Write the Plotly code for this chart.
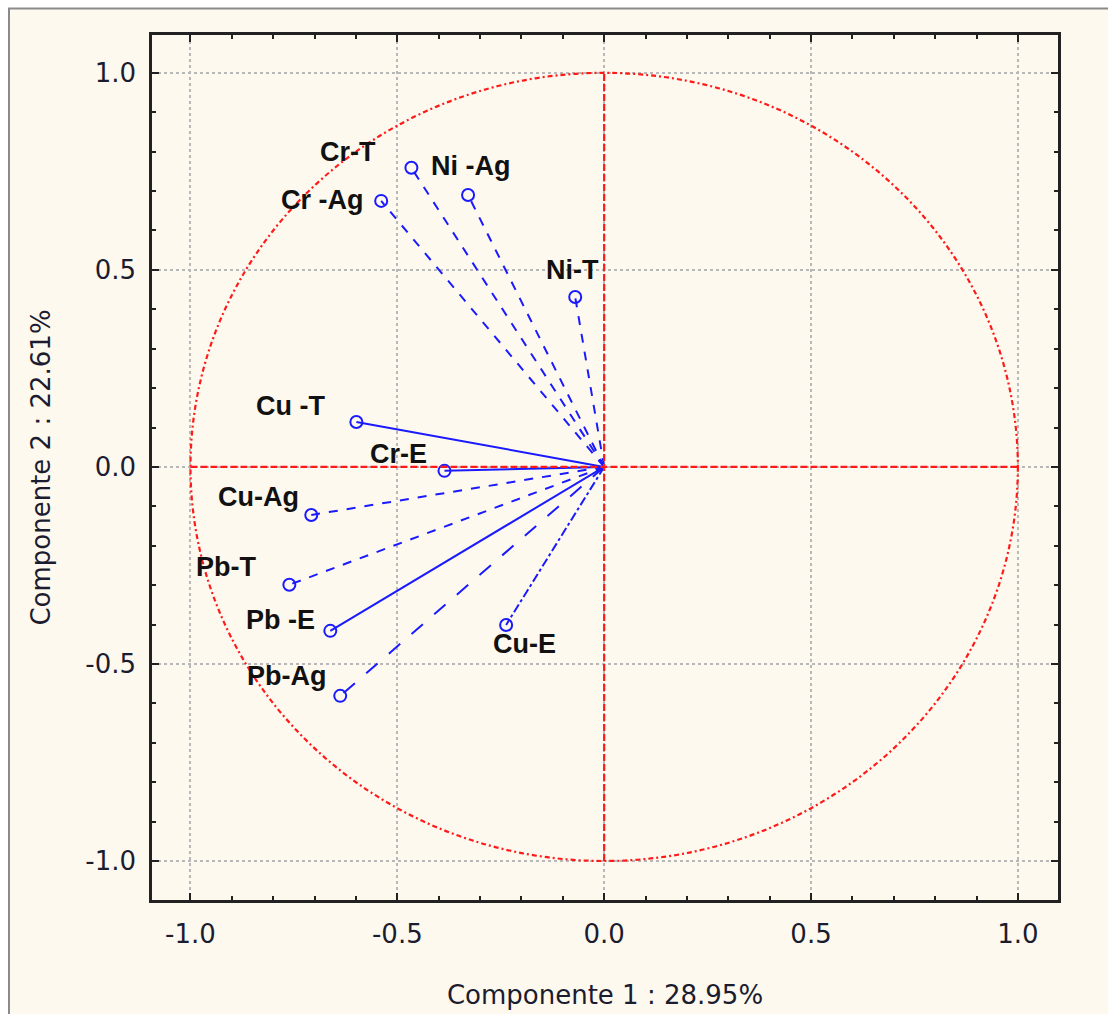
import plotly.graph_objects as go

# ---- data ----
labels = ["Cr-T", "Ni -Ag", "Cr -Ag", "Ni-T", "Cu -T", "Cr-E", "Cu-Ag", "Pb-T", "Pb -E", "Pb-Ag", "Cu-E"]
comp1 = [-0.466, -0.329, -0.539, -0.070, -0.599, -0.386, -0.708, -0.761, -0.662, -0.638, -0.237]
comp2 = [0.759, 0.690, 0.675, 0.431, 0.114, -0.010, -0.122, -0.299, -0.416, -0.581, -0.401]
tick_vals = [-1.0, -0.5, 0.0, 0.5, 1.0]
tick_text = ["-1.0", "-0.5", "0.0", "0.5", "1.0"]
minor_vals = [round(-1.0 + 0.1 * i, 1) for i in range(21)]
x_title = "Componente 1 : 28.95%"
y_title = "Componente 2 : 22.61%"

# ---- styles ----
line_dash = {"Cr-T": "dash", "Ni -Ag": "dash", "Cr -Ag": "dash", "Ni-T": "dash",
             "Cu -T": "solid", "Cr-E": "solid", "Cu-Ag": "dash", "Pb-T": "dash",
             "Pb -E": "solid", "Pb-Ag": "longdash", "Cu-E": "dashdot"}
label_shift = {"Cr-T": (-63, 16), "Ni -Ag": (2, 29), "Cr -Ag": (-59, 1), "Ni-T": (-3, 27),
               "Cu -T": (-66, 16), "Cr-E": (-46, 17), "Cu-Ag": (-53, 18), "Pb-T": (-63, 18),
               "Pb -E": (-50, 11), "Pb-Ag": (-54, 20), "Cu-E": (18, -19)}
BLUE = "#1a1aff"
RED = "#ff1a1a"
FONT = "Liberation Sans"
AXFONT = "DejaVu Sans"

fig = go.Figure()

for lab, x, y in zip(labels, comp1, comp2):
    fig.add_trace(go.Scatter(
        x=[0, x], y=[0, y], mode="lines",
        line=dict(color=BLUE, width=2, dash=line_dash[lab]),
        showlegend=False, hoverinfo="skip"))

fig.add_trace(go.Scatter(
    x=comp1, y=comp2, mode="markers", text=labels,
    marker=dict(symbol="circle-open", size=12, color=BLUE, line=dict(width=2, color=BLUE)),
    showlegend=False))

for lab, x, y in zip(labels, comp1, comp2):
    dx, dy = label_shift[lab]
    fig.add_annotation(x=x, y=y, text=lab, showarrow=False, xshift=dx, yshift=dy,
                       font=dict(family=FONT, size=27, color="#111111", weight="bold"))

# unit circle and cross lines
fig.add_shape(type="circle", xref="x", yref="y", x0=-1, y0=-1, x1=1, y1=1,
              line=dict(color=RED, width=2.2, dash="5px,3px,2px,3px"))
fig.add_shape(type="line", xref="x", yref="y", x0=-1, y0=0, x1=1, y1=0,
              line=dict(color=RED, width=2.2, dash="7px,3px"))
fig.add_shape(type="line", xref="x", yref="y", x0=0, y0=-1, x1=0, y1=1,
              line=dict(color=RED, width=2.2, dash="7px,3px"))

# background panel (cream, with gray top/left border)
W, H = 1108, 1014
L, R, T, B = 152, 50, 35, 114
pw, ph = W - L - R, H - T - B
def px(p):
    return (p - L) / pw
def py(p):
    return (H - B - p) / ph
fig.add_shape(type="rect", xref="paper", yref="paper", layer="below",
              x0=px(9), x1=px(W + 5), y0=py(H + 5), y1=py(8.5),
              fillcolor="#fef9ee", line=dict(color="#8a8a8a", width=2))

axis_common = dict(
    tickmode="array", tickvals=tick_vals, ticktext=tick_text, automargin=False,
    showgrid=True, gridcolor="#b8b8b8", griddash="dot", gridwidth=1.5,
    zeroline=False, showline=True, linecolor="#222222", linewidth=2.5,
    mirror="allticks", ticks="inside", ticklen=7, tickwidth=2, tickcolor="#222222",
    minor=dict(tickmode="array", tickvals=minor_vals, ticks="inside", ticklen=4, tickwidth=2,
               tickcolor="#222222", showgrid=False),
    tickfont=dict(family=AXFONT, size=26, color="#1c1c30"),
)

fig.update_layout(
    width=W, height=H,
    margin=dict(l=L, r=R, t=T, b=B, autoexpand=False),
    paper_bgcolor="white", plot_bgcolor="white",
    xaxis=dict(range=[-1.093, 1.097], ticklabelstandoff=9,
               title=dict(text=x_title, standoff=38,
                          font=dict(family=AXFONT, size=26, color="#1c1c30")), **axis_common),
    yaxis=dict(range=[-1.099, 1.096], ticklabelstandoff=8,
               title=dict(text=y_title, standoff=28,
                          font=dict(family=AXFONT, size=26, color="#1c1c30")), **axis_common),
)

fig.write_html("out.html")
